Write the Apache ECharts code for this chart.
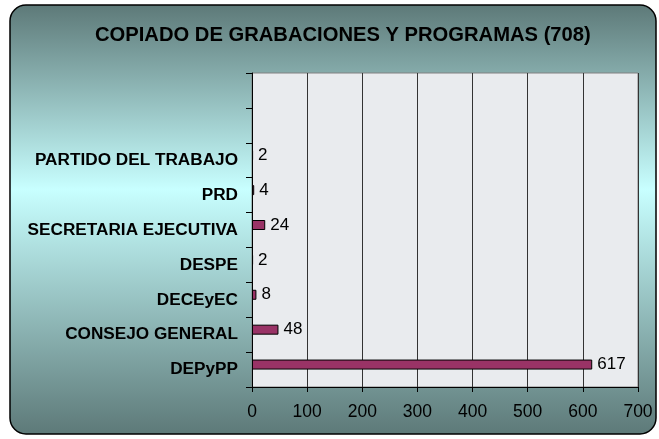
<!DOCTYPE html>
<html>
<head>
<meta charset="utf-8">
<script src="https://cdn.jsdelivr.net/npm/echarts@6/dist/echarts.min.js"></script>
<style>
  html, body { margin: 0; padding: 0; background: #fff; }
  #chart { width: 659px; height: 439px; }
</style>
</head>
<body>
<div id="chart"></div>
<script>
// categories from bottom to top; two empty slots at the top like the original
const categories = ['DEPyPP', 'CONSEJO GENERAL', 'DECEyEC', 'DESPE', 'SECRETARIA EJECUTIVA', 'PRD', 'PARTIDO DEL TRABAJO', '', '']
const values = [617, 48, 8, 2, 24, 4, 2, null, null]
const emptyValues = [null, null, null, null, null, null, null, null, null]
const xTicks = { min: 0, max: 700, interval: 100 }
const title = 'COPIADO DE GRABACIONES Y PROGRAMAS (708)'

const font = '"Liberation Sans", Arial, sans-serif'
const chart = echarts.init(document.getElementById('chart'), null, { renderer: 'canvas' })

chart.setOption({
  animation: false,
  backgroundColor: '#ffffff',
  graphic: [{
    type: 'rect',
    z: -10,
    silent: true,
    shape: { x: 10, y: 5, width: 646, height: 429, r: 16 },
    style: {
      fill: new echarts.graphic.LinearGradient(0, 0, 0, 1, [
        { offset: 0, color: '#5d7978' },
        { offset: 0.43, color: '#c8ffff' },
        { offset: 1, color: '#5d7978' },
      ]),
      stroke: '#000',
      lineWidth: 1.5,
    },
  }],
  title: {
    text: title,
    left: 90,
    top: 20,
    textStyle: { fontFamily: font, fontSize: 20.2, fontWeight: 'bold', color: '#000' },
  },
  grid: {
    left: 252, right: 21, top: 73, bottom: 52,
    show: true,
    backgroundColor: '#e9ebee',
    borderColor: '#808080',
    borderWidth: 1,
  },
  xAxis: {
    type: 'value',
    min: xTicks.min,
    max: xTicks.max,
    interval: xTicks.interval,
    axisLine: { show: true, lineStyle: { color: '#000' } },
    axisTick: { show: true, length: 5, lineStyle: { color: '#000' } },
    splitLine: { show: true, lineStyle: { color: '#333', width: 1 } },
    axisLabel: { color: '#000', fontFamily: font, fontSize: 17.5, margin: 16 },
  },
  yAxis: {
    type: 'category',
    data: categories,
    axisLine: { show: true, lineStyle: { color: '#000' } },
    axisTick: { show: true, length: 6, lineStyle: { color: '#000' } },
    axisLabel: { color: '#000', fontFamily: font, fontSize: 17.2, fontWeight: 'bold', margin: 14 },
  },
  series: [
    {
      type: 'bar',
      data: values,
      barWidth: 10,
      barGap: '0%',
      itemStyle: { color: '#993366', borderColor: '#000', borderWidth: 1 },
      label: { show: true, position: 'right', distance: 5, color: '#000', fontFamily: font, fontSize: 17 },
    },
    {
      type: 'bar',
      data: emptyValues,
      barWidth: 10,
      barGap: '0%',
    },
  ],
})
</script>
</body>
</html>
